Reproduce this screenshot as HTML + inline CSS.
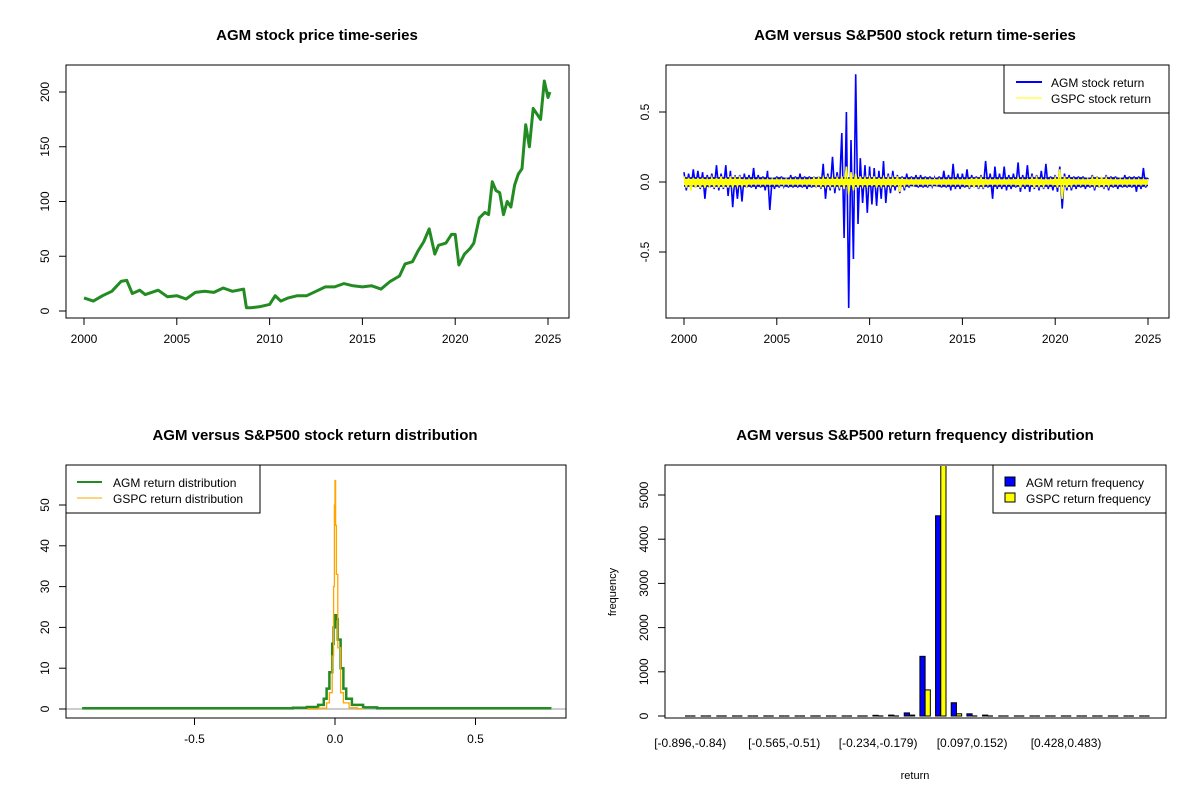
<!DOCTYPE html>
<html><head><meta charset="utf-8">
<style>
html,body{margin:0;padding:0;background:#fff;}
svg{display:block;font-family:"Liberation Sans",Arial,sans-serif;}
</style></head>
<body>
<svg id="chart" width="1200" height="800" viewBox="0 0 1200 800" xmlns="http://www.w3.org/2000/svg">
<rect width="1200" height="800" fill="#fff"/>
</svg>
<script>
// ---------- DATA ----------
// Panel 1: AGM price
const priceYears = [2000,2000.5,2001,2001.5,2002,2002.3,2002.6,2003,2003.3,2004,2004.5,2005,2005.5,2006,2006.5,2007,2007.5,2008,2008.6,2008.75,2009,2009.5,2010,2010.3,2010.6,2011,2011.5,2012,2012.5,2013,2013.5,2014,2014.5,2015,2015.5,2016,2016.5,2017,2017.3,2017.7,2018,2018.3,2018.6,2018.9,2019.1,2019.5,2019.8,2020,2020.2,2020.5,2020.8,2021,2021.3,2021.6,2021.8,2022,2022.2,2022.4,2022.6,2022.8,2023,2023.2,2023.4,2023.6,2023.8,2024,2024.2,2024.4,2024.6,2024.8,2025,2025.1];
const priceValues = [12,9,14,18,27,28,16,19,15,19,13,14,11,17,18,17,21,18,20,3,3,4,6,14,9,12,14,14,18,22,22,25,23,22,23,20,27,32,43,45,55,63,75,52,60,62,70,70,42,52,57,62,85,90,88,118,110,108,88,100,95,115,125,130,170,150,185,180,175,210,195,200];
const priceYTicks = [0,50,100,150,200];
const yearTicks = [2000,2005,2010,2015,2020,2025];

// Panel 2: returns (quarterly envelopes, 2000.00 .. 2025.00 step 0.25)
const retStartYear = 2000;
const agmHigh = [.07,.06,.09,.08, .07,.05,.06,.12, .06,.12,.08,.05, .05,.06,.05,.1, .05,.04,.08,.03, .04,.04,.03,.05, .04,.06,.04,.04, .04,.04,.13,.06, .18,.07,.35,.5, .3,.77,.17,.12, .11,.1,.08,.15, .06,.08,.05,.04, .06,.04,.05,.05, .04,.04,.03,.04, .08,.05,.13,.06, .06,.09,.05,.04, .05,.15,.06,.11, .06,.11,.05,.06, .14,.05,.12,.06, .05,.08,.13,.04, .05,.11,.06,.05, .04,.04,.04,.03, .05,.04,.03,.05, .04,.04,.03,.05, .04,.04,.04,.10, .03];
const agmLow = [-.06,-.05,-.04,-.05, -.12,-.04,-.05,-.06, -.05,-.1,-.18,-.12, -.14,-.04,-.04,-.05, -.04,-.06,-.2,-.05, -.04,-.03,-.04,-.04, -.04,-.04,-.05,-.04, -.04,-.05,-.12,-.06, -.08,-.06,-.4,-.9, -.55,-.3,-.15,-.22, -.16,-.17,-.12,-.15, -.08,-.06,-.08,-.06, -.04,-.03,-.04,-.04, -.04,-.03,-.03,-.04, -.04,-.06,-.05,-.05, -.04,-.05,-.04,-.05, -.05,-.04,-.12,-.05, -.05,-.06,-.05,-.04, -.07,-.05,-.07,-.05, -.06,-.05,-.05,-.06, -.07,-.19,-.06,-.06, -.05,-.04,-.05,-.04, -.06,-.04,-.05,-.06, -.04,-.05,-.04,-.04, -.04,-.07,-.05,-.04, -.03];
const gspcHigh = [.04,.03,.03,.03, .03,.02,.03,.03, .04,.03,.04,.03, .03,.02,.02,.02, .02,.02,.02,.02, .02,.02,.02,.02, .02,.02,.02,.02, .03,.03,.03,.03, .03,.03,.04,.11, .07,.06,.04,.03, .03,.04,.03,.03, .03,.03,.04,.03, .02,.02,.02,.02, .02,.02,.02,.02, .02,.02,.02,.02, .02,.02,.03,.03, .03,.02,.02,.02, .02,.02,.02,.02, .03,.02,.02,.03, .03,.02,.02,.02, .03,.09,.04,.03, .02,.02,.02,.02, .03,.03,.03,.03, .02,.02,.02,.02, .02,.02,.02,.02, .02];
const gspcLow = [-.04,-.06,-.04,-.04, -.04,-.03,-.04,-.04, -.04,-.04,-.04,-.03, -.03,-.03,-.02,-.02, -.02,-.02,-.02,-.02, -.02,-.02,-.02,-.02, -.02,-.02,-.02,-.02, -.03,-.03,-.03,-.03, -.03,-.03,-.05,-.09, -.06,-.04,-.03,-.03, -.03,-.04,-.03,-.03, -.03,-.03,-.07,-.03, -.02,-.02,-.02,-.02, -.02,-.02,-.02,-.02, -.02,-.02,-.02,-.02, -.02,-.03,-.04,-.03, -.03,-.02,-.02,-.02, -.02,-.02,-.02,-.02, -.04,-.02,-.02,-.04, -.03,-.03,-.02,-.02, -.04,-.12,-.04,-.03, -.02,-.02,-.02,-.02, -.03,-.03,-.03,-.03, -.02,-.02,-.02,-.02, -.02,-.02,-.02,-.02, -.02];
const retYTicks = [-0.5,0,0.5];

// Panel 3: density
const agmDensX = [-0.9,-0.3,-0.15,-0.1,-0.06,-0.04,-0.03,-0.02,-0.01,-0.005,0,0.005,0.01,0.02,0.03,0.04,0.06,0.1,0.15,0.3,0.77];
const agmDensY = [0.2,0.2,0.3,0.5,1,2.5,5,9,16,20,23,22,17,10,5,2.5,1,0.4,0.2,0.2,0.2];
const gspcDensX = [-0.1,-0.06,-0.03,-0.02,-0.01,-0.005,-0.002,0,0.002,0.005,0.01,0.02,0.03,0.05,0.08,0.1];
const gspcDensY = [0,0.2,1.5,4,13,30,50,56,45,33,15,4,1.5,0.3,0.1,0];
const densXTicks = [-0.5,0,0.5];
const densYTicks = [0,10,20,30,40,50];

// Panel 4: frequency histogram (30 bins)
const binLabels = ["[-0.896,-0.84)","[-0.565,-0.51)","[-0.234,-0.179)","[0.097,0.152)","[0.428,0.483)"];
const binLabelIndex = [0,6,12,18,24];
const agmFreq = [0,0,0,0,0,0,0,0,0,0,0,0,15,20,70,1350,4530,300,50,20,0,0,0,0,0,0,0,0,0,0];
const gspcFreq = [0,0,0,0,0,0,0,0,0,0,0,0,0,5,20,590,5800,50,5,2,0,0,0,0,0,0,0,0,0,0];
const freqYTicks = [0,1000,2000,3000,4000,5000];

// ---------- HELPERS ----------
const svg = document.getElementById('chart');
const NS = 'http://www.w3.org/2000/svg';
function mk(tag, attrs, parent){
  const e = document.createElementNS(NS, tag);
  for (const k in attrs) e.setAttribute(k, attrs[k]);
  (parent||svg).appendChild(e);
  return e;
}
function txt(x,y,s,size,opts){
  opts = opts||{};
  const t = mk('text',{x:x,y:y,'font-size':size,'text-anchor':opts.anchor||'middle',fill:'#000','font-weight':opts.bold?'bold':'normal'});
  if (opts.rot) t.setAttribute('transform','rotate(-90 '+x+' '+y+')');
  t.textContent = s;
  return t;
}
function lin(d0,d1,r0,r1){ return v => r0 + (v-d0)/(d1-d0)*(r1-r0); }

function box(x0,y0,x1,y1,name){
  const r = mk('rect',{x:x0,y:y0,width:x1-x0,height:y1-y0,fill:'none',stroke:'#000','stroke-width':1});
  
  
}
function xAxis(ticks, sx, yBase, labelFn, name){
  const g = mk('g',{});
  
  
  mk('line',{x1:sx(ticks[0]),x2:sx(ticks[ticks.length-1]),y1:yBase,y2:yBase,stroke:'#000'},g);
  ticks.forEach(t=>{
    mk('line',{x1:sx(t),x2:sx(t),y1:yBase,y2:yBase+7,stroke:'#000'},g);
    const l = txt(sx(t), yBase+25, labelFn(t), 12);
    g.appendChild(l);
  });
}
function yAxis(ticks, sy, xBase, labelFn, name){
  const g = mk('g',{});
  
  
  mk('line',{x1:xBase,x2:xBase,y1:sy(ticks[0]),y2:sy(ticks[ticks.length-1]),stroke:'#000'},g);
  ticks.forEach(t=>{
    mk('line',{x1:xBase,x2:xBase-7,y1:sy(t),y2:sy(t),stroke:'#000'},g);
    const l = txt(xBase-17, sy(t), labelFn(t), 12, {rot:true});
    g.appendChild(l);
  });
}
function clip(id,x0,y0,x1,y1){
  const c = mk('clipPath',{id:id});
  mk('rect',{x:x0,y:y0,width:x1-x0,height:y1-y0},c);
}
const oneDec = v => v===0 ? '0.0' : v.toFixed(1);

// ---------- PANEL 1 ----------
(function(){
  const sx = lin(2000,2025,84,548);
  const sy = lin(0,200,311,92);
  const t = txt(317,40,'AGM stock price time-series',15,{bold:true});
  
  
  box(66,65,569,318,'price-plot-box');
  xAxis(yearTicks,sx,318,v=>String(v),'price-x-axis');
  yAxis(priceYTicks,sy,66,v=>String(v),'price-y-axis');
  const pts = priceYears.map((y,i)=>sx(y).toFixed(1)+','+sy(priceValues[i]).toFixed(1)).join(' ');
  const pl = mk('polyline',{points:pts,fill:'none',stroke:'#228B22','stroke-width':3,'stroke-linejoin':'round'});
  
  
})();

// ---------- PANEL 2 ----------
(function(){
  const sx = lin(2000,2025,684,1148);
  const sy = lin(0,0.5,182,112);
  const t = txt(915,40,'AGM versus S&P500 stock return time-series',15,{bold:true});
  
  
  clip('c2',667,66,1168,317);
  function zig(hi,lo){
    const p=[];
    hi.forEach((h,i)=>{
      const y = retStartYear + i*0.25;
      p.push(sx(y).toFixed(1)+','+sy(h).toFixed(1));
      if (i < hi.length-1) p.push(sx(y+0.125).toFixed(1)+','+sy(lo[i]).toFixed(1));
    });
    return p.join(' ');
  }
  function core(hi,lo,cap){
    const top = hi.map((h,i)=>sx(retStartYear+i*0.25).toFixed(1)+','+sy(Math.min(h,cap)).toFixed(1));
    const bot = lo.map((l,i)=>sx(retStartYear+i*0.25).toFixed(1)+','+sy(Math.max(l,-cap)).toFixed(1)).reverse();
    return top.concat(bot).join(' ');
  }
  const bc = mk('polygon',{points:core(agmHigh,agmLow,0.035),fill:'#0000FF','clip-path':'url(#c2)'});
  
  
  const b = mk('polyline',{points:zig(agmHigh,agmLow),fill:'none',stroke:'#0000FF','stroke-width':1.6,'clip-path':'url(#c2)'});
  
  
  const yc = mk('polygon',{points:core(gspcHigh,gspcLow,0.022),fill:'#FFFF00','clip-path':'url(#c2)'});
  
  
  const yl = mk('polyline',{points:zig(gspcHigh,gspcLow),fill:'none',stroke:'#FFFF00','stroke-width':1.6,'clip-path':'url(#c2)'});
  
  
  box(666,65,1169,318,'return-plot-box');
  xAxis(yearTicks,sx,318,v=>String(v),'return-x-axis');
  yAxis(retYTicks,sy,666,oneDec,'return-y-axis');
  const lg = mk('g',{});
  
  
  mk('rect',{x:1004,y:65,width:165,height:48,fill:'#fff',stroke:'#000'},lg);
  mk('line',{x1:1016,x2:1042,y1:82,y2:82,stroke:'#0000FF','stroke-width':2},lg);
  mk('line',{x1:1016,x2:1042,y1:98,y2:98,stroke:'#FFFF00','stroke-width':1},lg);
  lg.appendChild(txt(1051,87,'AGM stock return',12,{anchor:'start'}));
  lg.appendChild(txt(1051,103,'GSPC stock return',12,{anchor:'start'}));
})();

// ---------- PANEL 3 ----------
(function(){
  const sx = lin(0,0.5,335,475.5);
  const sy = lin(0,10,709,668.2);
  const t = txt(315,440,'AGM versus S&P500 stock return distribution',15,{bold:true});
  
  
  clip('c3',67,466,565,717);
  const base = mk('line',{x1:66,x2:566,y1:sy(0),y2:sy(0),stroke:'#bbb','stroke-width':1.5});
  
  
  function step(xs,ys){
    const p=[];
    xs.forEach((x,i)=>{
      if(i>0) p.push(sx(x).toFixed(1)+','+sy(ys[i-1]).toFixed(1));
      p.push(sx(x).toFixed(1)+','+sy(ys[i]).toFixed(1));
    });
    return p.join(' ');
  }
  const g = mk('polyline',{points:step(agmDensX,agmDensY),fill:'none',stroke:'#228B22','stroke-width':2.5,'clip-path':'url(#c3)'});
  
  
  const o = mk('polyline',{points:step(gspcDensX,gspcDensY),fill:'none',stroke:'#FFA500','stroke-width':1.3,'clip-path':'url(#c3)'});
  
  
  box(66,465,566,718,'distribution-plot-box');
  xAxis(densXTicks,sx,718,oneDec,'distribution-x-axis');
  yAxis(densYTicks,sy,66,v=>String(v),'distribution-y-axis');
  const lg = mk('g',{});
  
  
  mk('rect',{x:66,y:465,width:194,height:48,fill:'#fff',stroke:'#000'},lg);
  mk('line',{x1:77,x2:102,y1:482,y2:482,stroke:'#228B22','stroke-width':2},lg);
  mk('line',{x1:77,x2:102,y1:498,y2:498,stroke:'#FFA500','stroke-width':1},lg);
  lg.appendChild(txt(113,487,'AGM return distribution',12,{anchor:'start'}));
  lg.appendChild(txt(113,503,'GSPC return distribution',12,{anchor:'start'}));
})();

// ---------- PANEL 4 ----------
(function(){
  const bw = 5.22;
  const x0 = 685;
  const sy = lin(0,1000,716,671.8);
  const t = txt(915,440,'AGM versus S&P500 return frequency distribution',15,{bold:true});
  
  
  clip('c4',666,466,1165,717);
  const gx = i => x0 + i*3*bw;
  function bar(x,v,color){
    const h = Math.abs(sy(0)-sy(v));
    if (h < 0.5) {
      const l = mk('line',{x1:x,x2:x+bw,y1:sy(0),y2:sy(0),stroke:'#000','stroke-width':1.2});
      return l;
    }
    return mk('rect',{x:x,y:Math.min(sy(v),sy(0)),width:bw,height:h,fill:color,stroke:'#000','stroke-width':1,'clip-path':'url(#c4)'});
  }
  agmFreq.forEach((v,i)=>{
    const r = bar(gx(i),v,'#0000FF');
    
    
  });
  gspcFreq.forEach((v,i)=>{
    const r = bar(gx(i)+bw,v,'#FFFF00');
    
    
  });
  box(665,465,1166,718,'frequency-plot-box');
  yAxis(freqYTicks,sy,665,v=>String(v),'frequency-y-axis');
  const xl = mk('g',{});
  
  
  binLabels.forEach((s,k)=>{
    xl.appendChild(txt(gx(binLabelIndex[k])+bw, 747, s, 12));
  });
  const xt = txt(915,779,'return',11);
  
  
  const yt = txt(616,592,'frequency',11,{rot:true});
  
  
  const lg = mk('g',{});
  
  
  mk('rect',{x:993,y:465,width:173,height:48,fill:'#fff',stroke:'#000'},lg);
  mk('rect',{x:1005,y:477,width:10,height:9,fill:'#0000FF',stroke:'#000'},lg);
  mk('rect',{x:1005,y:493,width:10,height:9,fill:'#FFFF00',stroke:'#000'},lg);
  lg.appendChild(txt(1026,487,'AGM return frequency',12,{anchor:'start'}));
  lg.appendChild(txt(1026,503,'GSPC return frequency',12,{anchor:'start'}));
})();
</script>
</body></html>
